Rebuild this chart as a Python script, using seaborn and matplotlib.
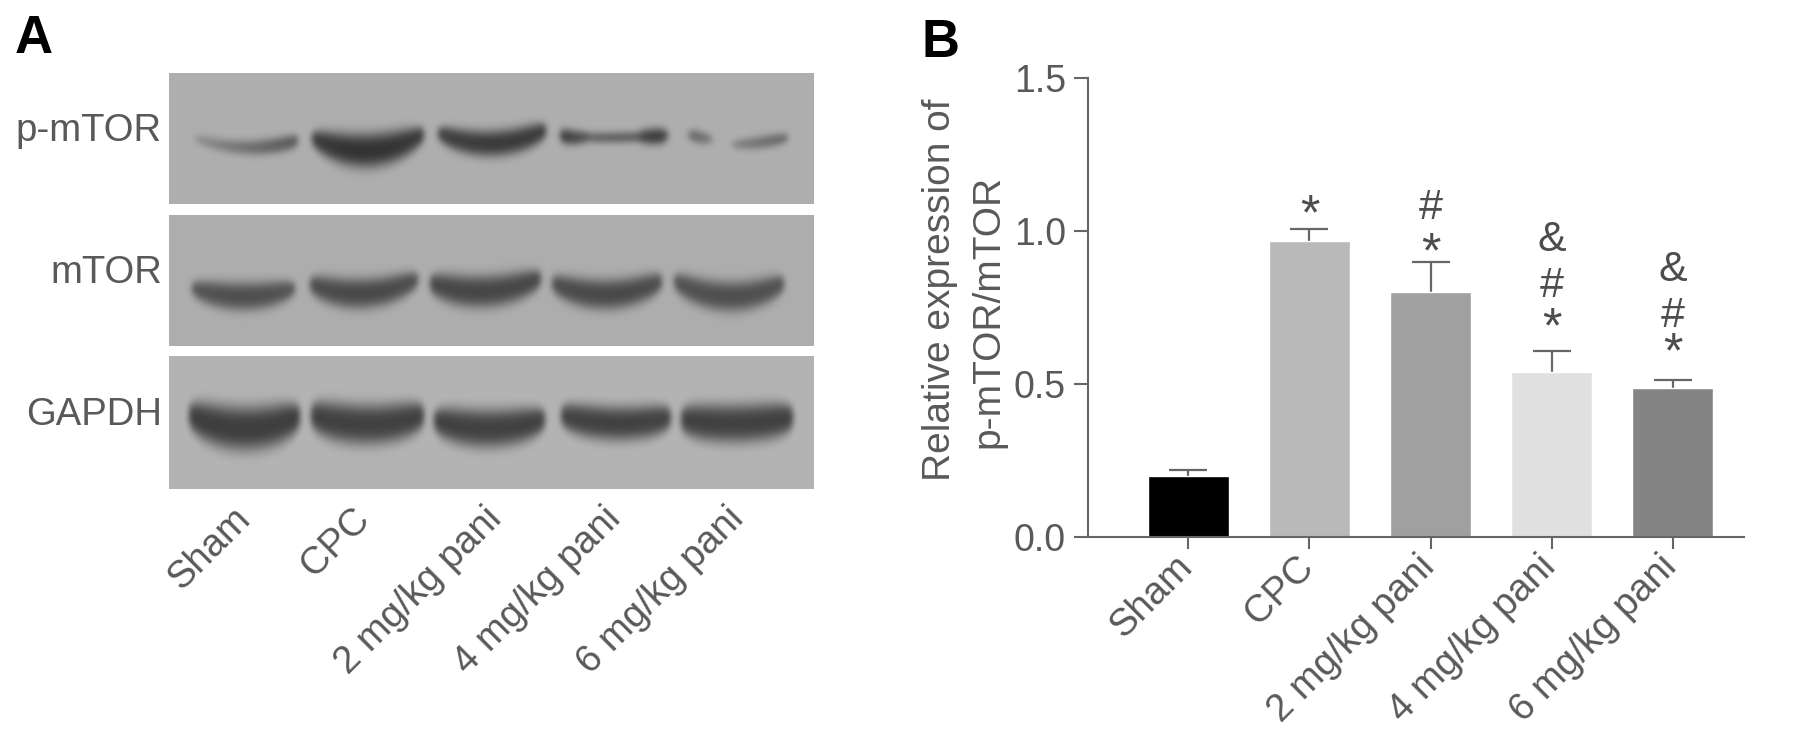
import matplotlib
matplotlib.use('Agg')
import matplotlib.pyplot as plt
from matplotlib.transforms import ScaledTranslation
import numpy as np
import seaborn as sns

W, H = 1795, 737
TXT = '#595959'

# panel B values
groups = ['Sham', 'CPC', '2 mg/kg pani', '4 mg/kg pani', '6 mg/kg pani']
means = [0.20, 0.968, 0.80, 0.538, 0.486]
err_tops = [0.22, 1.006, 0.90, 0.607, 0.514]
bar_colors = ['#000000', '#b9b9b9', '#a0a0a0', '#e0e0e0', '#848484']
y_ticks = [0.0, 0.5, 1.0, 1.5]

# significance marks: (bar index, symbol, height)
marks = [(1, '*', 1.08), (2, '#', 1.075), (2, '*', 0.955),
         (3, '&', 0.972), (3, '#', 0.819), (3, '*', 0.71),
         (4, '&', 0.874), (4, '#', 0.721), (4, '*', 0.628)]
mark_size = {'*': 36, '#': 31, '&': 31}
mark_drop = {'*': 7, '#': 0, '&': 0}

# panel A blots, read in pixels of the picture
# band = x0, x1, y left/mid/right, half height left/mid/right, gray left/mid/right
pmtor_bands = [
    (195, 297, 138, 147, 140, 5, 7, 8, 140, 110, 85),
    (312, 423, 138, 150, 134, 11, 17, 11, 60, 50, 60),
    (438, 545, 133, 143, 130, 10, 13, 11, 65, 58, 60),
    (560, 590, 135, 137, 136, 8, 7, 5, 60, 70, 90),
    (585, 645, 137, 137, 136, 5, 5, 5, 95, 90, 90),
    (635, 667, 136, 136, 135, 5, 8, 7, 90, 60, 75),
    (688, 712, 134, 137, 139, 5, 6, 4, 110, 105, 135),
    (732, 787, 144, 142, 137, 4, 6, 5, 130, 110, 100),
]
mtor_bands = [
    (192, 294, 288, 296, 288, 10, 14, 10, 85, 78, 85),
    (310, 417, 284, 293, 279, 12, 15, 11, 78, 72, 78),
    (430, 540, 283, 291, 278, 13, 16, 12, 72, 70, 72),
    (552, 661, 283, 294, 281, 12, 15, 12, 78, 72, 78),
    (674, 783, 281, 296, 283, 12, 15, 12, 82, 78, 82),
]
gapdh_bands = [
    (189, 299, 415, 428, 416, 18, 22, 18, 62, 62, 62),
    (311, 423, 415, 424, 415, 18, 20, 17, 65, 65, 65),
    (434, 544, 420, 428, 419, 16, 19, 15, 65, 65, 65),
    (561, 670, 415, 423, 417, 15, 17, 15, 68, 65, 68),
    (681, 792, 419, 423, 417, 17, 19, 17, 65, 65, 65),
]
blot_names = ['p-mTOR', 'mTOR', 'GAPDH']
blot_rows = [(73, 204), (215, 346), (356, 489)]
blot_bgs = [174, 173, 180]
blot_bands = [pmtor_bands, mtor_bands, gapdh_bands]
name_y = [131, 273, 415]
lane_label_x = [232, 351, 483, 603, 726]
lane_label_y = [501, 501, 501, 501, 501]
BLOT_X = (169, 814)


def px_axes(fig, x0, x1, y0, y1):
    return fig.add_axes([x0 / W, 1 - y1 / H, (x1 - x0) / W, (y1 - y0) / H])


def quad(u, left, mid, right):
    # curve through the left, middle and right readings, u runs -1..1
    return mid + (right - left) / 2 * u + ((right + left) / 2 - mid) * u ** 2


def soften(img, sigma=3.0):
    r = int(3 * sigma)
    k = np.exp(-0.5 * (np.arange(-r, r + 1) / sigma) ** 2)
    k = k / k.sum()
    for axis in (0, 1):
        pad = [(r, r) if a == axis else (0, 0) for a in (0, 1)]
        img = np.apply_along_axis(lambda v: np.convolve(v, k, mode='valid'), axis,
                                  np.pad(img, pad, mode='edge'))
    return img


def blot_image(x0, x1, y0, y1, bg, bands):
    xx, yy = np.meshgrid(np.arange(x0, x1), np.arange(y0, y1))
    img = np.full(xx.shape, float(bg))
    for b in bands:
        u = (xx - (b[0] + b[1]) / 2) / ((b[1] - b[0]) / 2)
        uc = np.clip(u, -1, 1)
        yc = quad(uc, b[2], b[3], b[4])
        hh = quad(uc, b[5], b[6], b[7]) * (0.5 + 0.5 * np.sqrt(1 - uc ** 6))
        gray = quad(uc, b[8], b[9], b[10])
        alpha = (np.abs(u) <= 1) * np.exp(-np.abs((yy - yc) / hh) ** 3)
        img = np.minimum(img, bg * (1 - alpha) + gray * alpha)
    return soften(img)


sns.set_style('ticks')
plt.rcParams['font.family'] = ['Liberation Sans', 'DejaVu Sans']

fig = plt.figure(figsize=(W / 100, H / 100), dpi=100)

# panel A
for name, (y0, y1), bg, bands, ny in zip(blot_names, blot_rows, blot_bgs, blot_bands, name_y):
    ax = px_axes(fig, BLOT_X[0], BLOT_X[1], y0, y1)
    ax.imshow(blot_image(BLOT_X[0], BLOT_X[1], y0, y1, bg, bands), cmap='gray',
              vmin=0, vmax=255, aspect='auto', interpolation='bilinear')
    ax.axis('off')
    fig.text(162 / W, 1 - ny / H, name, ha='right', va='center', fontsize=27.5, color=TXT)

for label, lx, ly in zip(groups, lane_label_x, lane_label_y):
    fig.text(lx / W, 1 - ly / H, label, rotation=45, rotation_mode='anchor',
             ha='right', va='top', fontsize=27.5, color=TXT)

fig.text(15 / W, 1 - 53 / H, 'A', fontsize=38, fontweight='bold', color='black')
fig.text(921 / W, 1 - 57 / H, 'B', fontsize=38, fontweight='bold', color='black')

# panel B
ax = px_axes(fig, 1088, 1744, 78, 537)
sns.barplot(x=groups, y=means, hue=groups, palette=bar_colors, legend=False,
            saturation=1, width=0.675, ax=ax)
x_pos = np.arange(len(groups))
# lower end sits inside the bar so only the upper whisker shows
ax.errorbar(x_pos, means, yerr=[np.full(len(means), 0.03), np.array(err_tops) - np.array(means)],
            fmt='none', ecolor='#666666', elinewidth=1.6, capsize=13.5, capthick=1.6, zorder=0.5)
for i, sym, y in marks:
    ax.annotate(sym, (i, y), xytext=(0, -mark_drop[sym]), textcoords='offset points',
                ha='center', va='center', fontsize=mark_size[sym], color='#4d4d4d')

ax.set_xlim(-0.83, 4.59)
ax.set_ylim(0, 1.5)
ax.set_yticks(y_ticks)
ax.set_yticklabels(['0.0', '0.5', '1.0', '1.5'], fontsize=27, color=TXT)
ax.set_xticks(x_pos)
ax.set_xticklabels(groups, rotation=45, ha='right', rotation_mode='anchor', fontsize=27.5, color=TXT)
ax.tick_params(axis='y', length=10, width=1.5, color='#666666', pad=6)
ax.tick_params(axis='x', length=8.5, width=1.5, color='#666666', pad=0)
shift = ScaledTranslation(-14 / 100, 0, fig.dpi_scale_trans)
for lab in ax.get_xticklabels():
    lab.set_transform(lab.get_transform() + shift)
sns.despine(ax=ax)
for side in ['left', 'bottom']:
    ax.spines[side].set_color('#666666')
    ax.spines[side].set_linewidth(1.5)

fig.text(940 / W, 1 - 290 / H, 'Relative expression of', rotation=90, ha='center', va='center',
         fontsize=28, color=TXT)
fig.text(988 / W, 1 - 311 / H, 'p-mTOR/mTOR', rotation=90, ha='center', va='center',
         fontsize=28, color=TXT)

fig.savefig('out.png', dpi=100)
